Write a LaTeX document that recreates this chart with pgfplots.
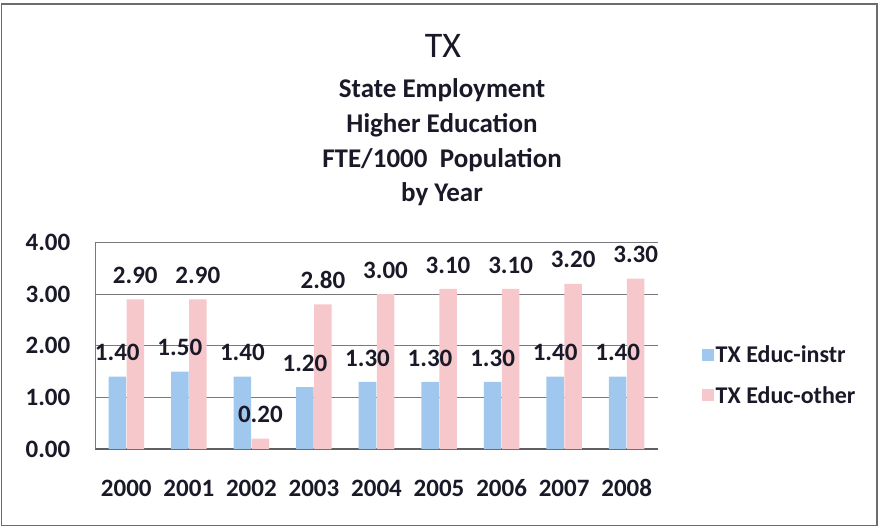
\documentclass[border=0pt]{standalone}
\usepackage{fontspec}
\setmainfont{Carlito}
\usepackage{pgfplots}
\pgfplotsset{compat=1.18}
\definecolor{barblue}{RGB}{160,200,238}
\definecolor{barpink}{RGB}{246,200,204}
\definecolor{txt}{RGB}{25,25,40}
\definecolor{gridc}{RGB}{120,120,125}
\begin{document}
\begin{tikzpicture}
\useasboundingbox (0,0) rectangle (879pt,531pt);
\draw[gray!85!black, line width=1.5pt] (1.5pt,5.5pt) rectangle (877pt,527pt);
\node[anchor=base, text=txt, font=\fontsize{36}{36}\selectfont] at (443pt,473pt) {TX};
\node[anchor=base, text=txt, font=\bfseries\fontsize{27}{27}\selectfont] at (442pt,433pt) {State Employment};
\node[anchor=base, text=txt, font=\bfseries\fontsize{27}{27}\selectfont] at (442pt,398pt) {Higher Education};
\node[anchor=base, text=txt, font=\bfseries\fontsize{27}{27}\selectfont] at (442pt,363pt) {FTE/1000\ \ Population};
\node[anchor=base, text=txt, font=\bfseries\fontsize{27}{27}\selectfont] at (442pt,329pt) {by Year};
\begin{axis}[
  at={(95pt,82pt)}, anchor=south west,
  scale only axis, width=563pt, height=206.5pt,
  xmin=-0.5, xmax=8.5, ymin=0, ymax=4,
  xtick={0,...,8},
  xticklabels={2000,2001,2002,2003,2004,2005,2006,2007,2008},
  ytick={0,1,2,3,4},
  major tick length=0pt,
  ymajorgrids, grid style={gridc, line width=1pt},
  axis x line*=bottom, axis y line*=left,
  x axis line style={draw=gridc!80!black, line width=1.6pt, -},
  y axis line style={draw=gridc, line width=1pt, -},
  /pgf/number format/assume math mode=true,
  yticklabel style={/pgf/number format/.cd, fixed, fixed zerofill, precision=2, /tikz/.cd,
     anchor=east, inner sep=0pt, xshift=-24.5pt, text=txt, font=\bfseries\fontsize{25}{25}\selectfont},
  xticklabel style={anchor=center, inner sep=0pt, yshift=-39pt, text=txt, font=\bfseries\fontsize{25}{25}\selectfont},
  ybar, bar width=17.5pt,
  nodes near coords,
  every node near coord/.append style={anchor=center, yshift=24pt, text=txt,
     font=\bfseries\fontsize{25}{25}\selectfont,
     /pgf/number format/.cd, fixed, fixed zerofill, precision=2},
  legend style={at={(1.072,0.52)}, anchor=north west, draw=none, fill=none,
     font=\bfseries\fontsize{24}{24}\selectfont, text=txt, row sep=18pt,
     nodes={inner sep=2pt}},
  legend cell align=left,
]
\addplot[fill=barblue, draw=none, /pgf/bar shift=-9pt,
  legend image code/.code={\fill[barblue] (-4pt,-6pt) rectangle (8pt,6pt);}]
  coordinates {(0,1.4) (1,1.5) (2,1.4) (3,1.2) (4,1.3) (5,1.3) (6,1.3) (7,1.4) (8,1.4)};
\addlegendentry{TX Educ-instr}
\addplot[fill=barpink, draw=none, /pgf/bar shift=9pt,
  legend image code/.code={\fill[barpink] (-4pt,-6pt) rectangle (8pt,6pt);}]
  coordinates {(0,2.9) (1,2.9) (2,0.2) (3,2.8) (4,3.0) (5,3.1) (6,3.1) (7,3.2) (8,3.3)};
\addlegendentry{TX Educ-other}
\end{axis}
\end{tikzpicture}
\end{document}
